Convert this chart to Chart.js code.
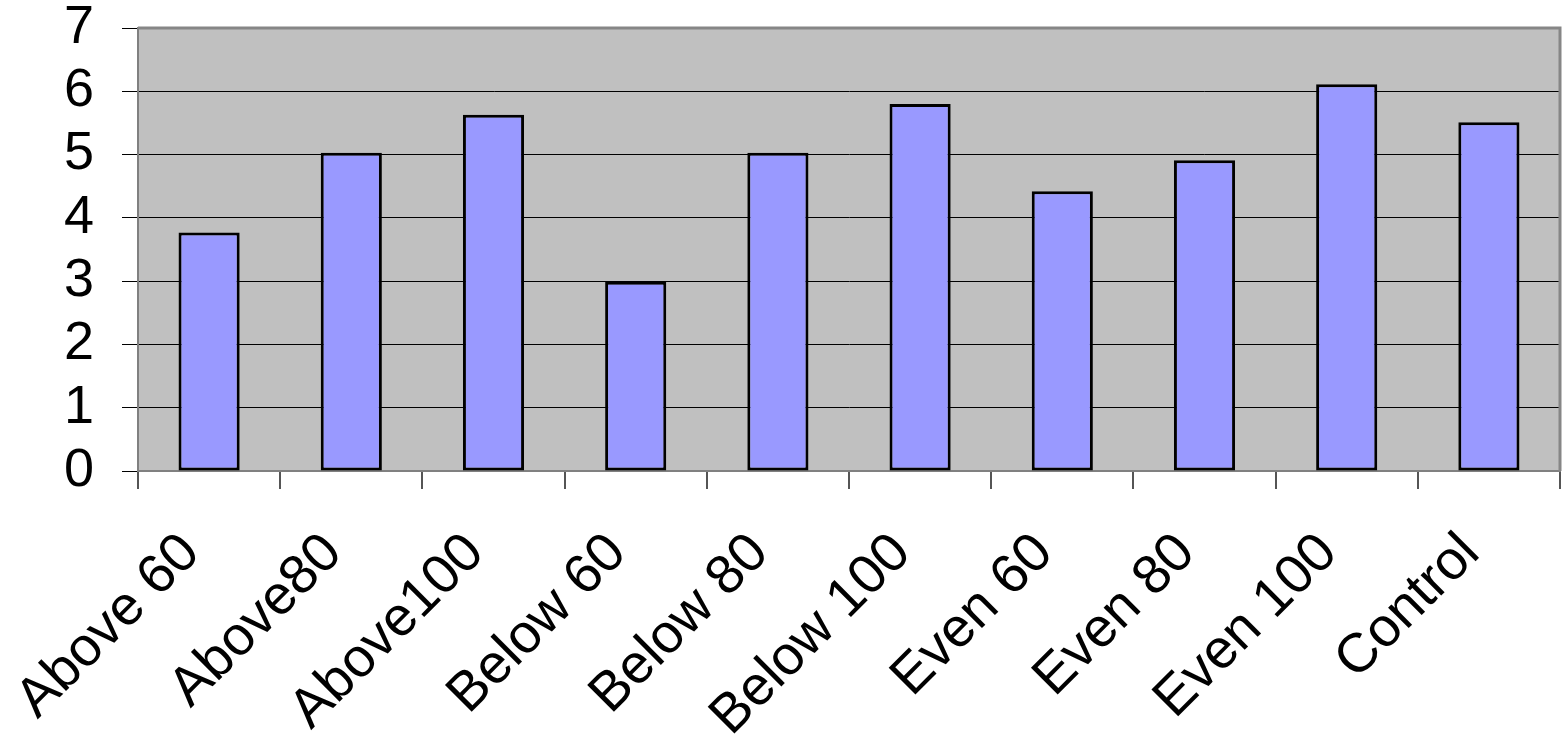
<!DOCTYPE html>
<html>
<head>
<meta charset="utf-8">
<script src="https://cdn.jsdelivr.net/npm/chart.js@4"></script>
<style>
  html, body { margin: 0; padding: 0; background: #ffffff; }
  #wrap { width: 1564px; height: 737px; position: relative; }
</style>
</head>
<body>
<div id="wrap"><canvas id="c"></canvas></div>
<script>
// Group labels and their mean scores
const categories = ['Above 60', 'Above80', 'Above100', 'Below 60', 'Below 80',
                    'Below 100', 'Even 60', 'Even 80', 'Even 100', 'Control'];
const scores = [3.77, 5.03, 5.63, 2.99, 5.03, 5.80, 4.42, 4.91, 6.11, 5.51];
const yTicks = [0, 1, 2, 3, 4, 5, 6, 7];

const FONT = "'Liberation Sans', Arial, sans-serif";

// Grey plot background plus the frame on the top and right sides
const plotFrame = {
  id: 'plotFrame',
  beforeDraw(chart) {
    const { ctx, chartArea: a } = chart;
    ctx.save();
    ctx.fillStyle = '#c0c0c0';
    ctx.fillRect(a.left, a.top, a.right - a.left, a.bottom - a.top);
    ctx.restore();
  },
  beforeDatasetsDraw(chart) {
    const { ctx, chartArea: a } = chart;
    ctx.save();
    ctx.strokeStyle = '#868686';
    ctx.lineWidth = 3;
    ctx.beginPath();
    ctx.moveTo(a.left, a.top);
    ctx.lineTo(a.right, a.top);
    ctx.lineTo(a.right, a.bottom);
    ctx.stroke();
    ctx.restore();
  }
};

new Chart(document.getElementById('c'), {
  type: 'bar',
  data: {
    labels: categories,
    datasets: [{
      data: scores,
      backgroundColor: '#9999ff',
      borderColor: '#000000',
      borderWidth: 3,
      borderSkipped: false,
      categoryPercentage: 1.0,
      barPercentage: 0.43
    }]
  },
  options: {
    responsive: true,
    maintainAspectRatio: false,
    animation: false,
    layout: { padding: { top: 0, right: 0, left: 0, bottom: 0 } },
    plugins: {
      legend: { display: false },
      tooltip: { enabled: false }
    },
    scales: {
      x: {
        grid: {
          display: true,
          drawOnChartArea: false,
          offset: true,
          color: '#555555',
          lineWidth: 2,
          tickLength: 18
        },
        border: { display: true, color: '#808080', width: 2 },
        ticks: {
          color: '#000000',
          font: { family: FONT, size: 55 },
          maxRotation: 45,
          minRotation: 45,
          padding: 32,
          labelOffset: -18,
          autoSkip: false
        },
        afterFit(scale) {
          scale.height = 266;
          scale.paddingRight = 4;
        }
      },
      y: {
        min: 0,
        max: 7,
        afterBuildTicks(scale) {
          scale.ticks = yTicks.map(v => ({ value: v }));
        },
        grid: {
          color: ctx => (ctx.tick && (ctx.tick.value === 0 || ctx.tick.value === 7)) ? '#808080' : '#000000',
          lineWidth: 1,
          tickLength: 16,
          tickColor: '#000000'
        },
        border: { display: true, color: '#808080', width: 2 },
        ticks: {
          color: '#000000',
          font: { family: FONT, size: 54 },
          padding: 28,
          autoSkip: false
        },
        afterFit(scale) {
          scale.width = 138;
          scale.paddingTop = 28;
          scale.paddingBottom = 0;
        }
      }
    }
  },
  plugins: [plotFrame]
});
</script>
</body>
</html>
